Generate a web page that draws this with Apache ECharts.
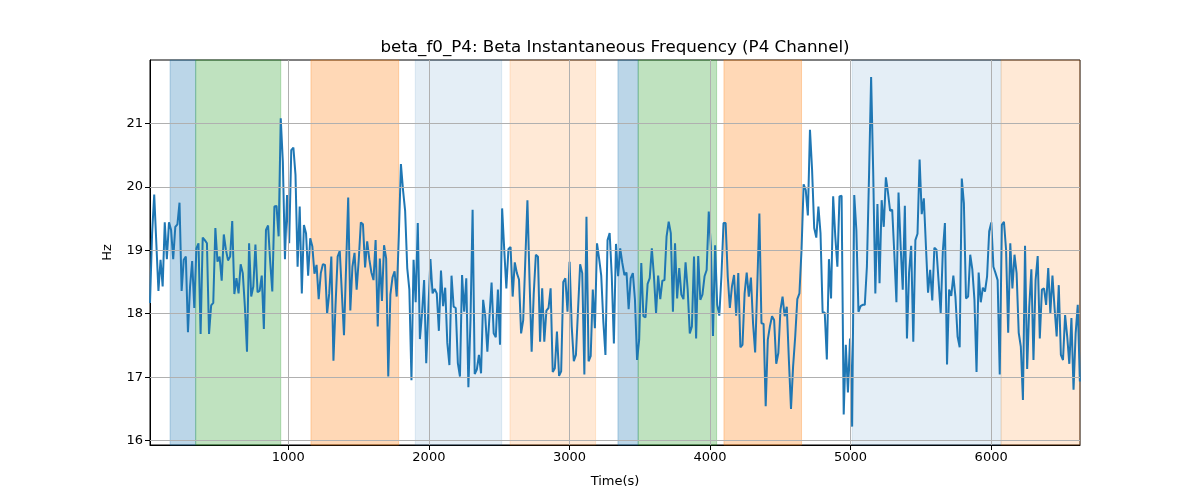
<!DOCTYPE html>
<html>
<head>
<meta charset="utf-8">
<script src="https://cdn.jsdelivr.net/npm/echarts@6/dist/echarts.min.js"></script>
<style>html,body{margin:0;padding:0;background:#fff;}#c{width:1200px;height:500px;}</style>
</head>
<body>
<div id="c"></div>
<script>
// Sampling grid of the signal (seconds)
const sampleStart = 16;
const samplePeriod = 15;

// Beta instantaneous frequency values (Hz)
const freqValues = [
18.17,19.27,19.88,19.11,18.36,18.85,18.43,19.44,18.86,19.44,
19.32,18.86,19.37,19.41,19.75,18.36,18.85,18.90,17.71,18.43,
18.83,18.09,19.03,19.11,17.68,19.20,19.16,19.11,17.68,18.13,
18.17,19.35,18.82,18.90,18.52,19.25,19.01,18.84,18.90,19.46,
18.31,18.56,18.32,18.78,18.64,18.11,17.40,19.11,18.27,18.43,
19.09,18.34,18.36,18.60,17.76,19.32,19.39,18.82,18.35,19.69,
19.70,19.22,21.08,20.40,18.86,19.87,19.11,20.58,20.62,20.19,
18.74,19.69,18.32,19.40,
19.27,18.60,19.19,19.06,18.63,18.77,18.23,18.64,18.78,18.77,
18.00,18.32,18.90,17.26,18.14,18.90,18.99,18.32,17.66,18.74,
19.83,18.05,18.74,18.96,18.38,18.85,19.44,19.41,18.73,19.14,
18.86,18.65,18.53,19.16,17.80,18.87,18.20,19.08,18.87,17.01,
18.30,18.57,18.67,18.27,19.22,20.36,19.95,19.62,18.72,18.38,
16.95,18.85,18.18,19.43,17.60,18.00,18.53,17.22,18.06,18.86,
18.32,18.39,18.32,17.73,18.68,18.12,18.41,17.54,17.19,18.60,
18.11,18.09,17.22,17.01,
18.61,18.03,18.56,16.84,17.90,19.64,17.05,17.12,17.35,17.06,
18.22,17.96,17.40,17.96,18.49,17.69,17.63,18.38,17.51,19.66,
19.01,18.40,19.02,19.05,18.27,18.81,18.64,18.54,17.69,17.90,
18.85,19.79,18.53,17.40,18.32,18.93,18.90,17.56,18.40,17.56,
18.05,18.09,18.40,17.08,17.14,17.72,17.02,17.09,18.50,18.56,
18.03,18.82,17.80,17.25,17.35,18.06,18.78,18.64,17.04,19.53,
17.25,17.33,18.38,17.77,19.11,18.87,18.60,17.88,17.35,19.16,
19.27,18.59,17.53,
19.10,18.59,19.03,18.80,18.61,18.65,18.07,18.56,18.64,18.22,
17.27,17.59,18.80,17.96,17.94,18.47,18.56,19.03,18.59,18.01,
18.60,18.23,18.52,18.53,19.22,19.45,19.27,18.03,19.11,18.24,
18.72,18.30,18.23,18.81,18.38,17.69,17.80,18.90,17.61,18.91,
18.22,18.30,18.59,18.69,19.61,19.06,17.65,19.08,18.14,17.97,
18.59,19.43,19.43,18.59,18.09,18.43,18.61,17.97,18.64,17.47,
17.51,18.32,18.65,18.27,18.57,17.85,17.39,18.43,19.58,17.85,
17.84,16.54,17.59,17.80,
17.96,17.90,17.21,17.38,18.06,18.27,17.96,18.11,17.27,16.50,
17.17,17.64,18.23,18.32,19.01,20.04,19.95,19.55,20.90,20.27,
19.35,19.20,19.69,19.27,18.02,18.02,17.28,18.86,18.24,19.85,
19.22,18.74,19.85,19.86,16.41,17.51,16.76,17.61,16.22,19.87,
19.32,18.03,18.12,18.14,18.14,18.74,20.16,21.73,20.21,18.32,
19.73,18.48,19.79,19.37,20.15,19.91,19.62,19.64,18.95,18.18,
19.91,19.06,18.38,19.70,17.61,18.65,19.07,17.56,19.16,19.26,
20.43,19.57,19.82,
19.06,18.33,18.69,18.21,19.04,19.01,18.51,18.01,18.98,19.43,
17.20,18.38,18.28,18.60,18.26,17.64,17.47,20.13,19.74,18.24,
18.27,18.93,18.70,18.22,17.08,18.65,18.18,18.41,18.35,18.59,
19.30,19.44,18.74,18.64,18.53,17.04,19.40,19.45,19.01,17.70,
19.11,18.40,18.93,18.64,17.70,17.48,16.64,19.07,17.13,18.11,
18.70,17.27,18.53,18.91,17.61,18.38,18.40,18.14,18.72,18.01,
18.60,18.09,17.64,18.45,17.35,17.27,17.98,17.64,17.21,17.93,
16.80,17.69,18.14,16.93
];

// Shaded periods: [start, end, kind]
const spanStarts = [159, 341, 1161, 1903, 2577, 3345, 3489, 4099, 5011, 6071];
const spanEnds   = [341, 946, 1785, 2518, 3186, 3489, 4047, 4651, 6071, 6632];
const spanKinds  = ['blue','green','orange','lightblue','lightorange','blue','green','orange','lightblue','lightorange'];

// Tick labels
const xTicks = [1000, 2000, 3000, 4000, 5000, 6000];
const yTicks = [16, 17, 18, 19, 20, 21];

const xMin = 16, xMax = 6632, yMin = 15.93, yMax = 22.0;

const kindColor = {
  blue: 'rgba(31,119,180,0.30)',
  green: 'rgba(44,160,44,0.30)',
  orange: 'rgba(255,127,14,0.30)',
  lightblue: 'rgba(31,119,180,0.12)',
  lightorange: 'rgba(255,127,14,0.17)'
};

const lineData = freqValues.map((v, i) => [sampleStart + samplePeriod * i, v]);

const areas = spanStarts.map((s, i) => [
  { xAxis: s, itemStyle: { color: kindColor[spanKinds[i]], borderColor: kindColor[spanKinds[i]], borderWidth: 1 } },
  { xAxis: spanEnds[i] }
]);

const gridLines = xTicks.map(v => ({ xAxis: v })).concat(yTicks.map(v => ({ yAxis: v })));

const font = 'DejaVu Sans';
const chart = echarts.init(document.getElementById('c'), null, { renderer: 'canvas' });
chart.setOption({
  animation: false,
  backgroundColor: '#ffffff',
  graphic: [{
    type: 'text', x: 615, y: 39, z: 10,
    style: {
      text: 'beta_f0_P4: Beta Instantaneous Frequency (P4 Channel)',
      fontFamily: font, fontSize: 16.7, fill: '#000', align: 'center', verticalAlign: 'top'
    }
  }],
  grid: { left: 150, right: 120, top: 60, bottom: 55, show: true, borderColor: '#000', borderWidth: 1, backgroundColor: 'transparent' },
  xAxis: {
    type: 'value', min: xMin, max: xMax,
    name: 'Time(s)', nameLocation: 'middle', nameGap: 30,
    nameTextStyle: { fontFamily: font, fontSize: 13, color: '#000' },
    axisLine: { show: true, lineStyle: { color: '#000', width: 1 } },
    axisTick: { show: true, customValues: xTicks, length: 5, lineStyle: { color: '#000' } },
    axisLabel: { customValues: xTicks, formatter: v => String(v), fontFamily: font, fontSize: 13, color: '#000', margin: 6 },
    splitLine: { show: false }
  },
  yAxis: {
    type: 'value', min: yMin, max: yMax,
    name: 'Hz', nameLocation: 'middle', nameGap: 36,
    nameTextStyle: { fontFamily: font, fontSize: 13, color: '#000' },
    axisLine: { show: true, lineStyle: { color: '#000', width: 1 } },
    axisTick: { show: true, customValues: yTicks, length: 5, lineStyle: { color: '#000' } },
    axisLabel: { customValues: yTicks, formatter: v => String(v), fontFamily: font, fontSize: 13, color: '#000', margin: 7 },
    splitLine: { show: false }
  },
  series: [
    { type: 'line', data: [], z: 1, silent: true,
      markArea: { silent: true, data: areas } },
    { type: 'line', data: [], z: 2, silent: true,
      markLine: { silent: true, symbol: ['none', 'none'], label: { show: false },
        lineStyle: { color: '#b0b0b0', width: 1, type: 'solid' }, data: gridLines } },
    { type: 'line', data: lineData, z: 3, showSymbol: false, symbol: 'none',
      lineStyle: { color: '#1f77b4', width: 2 }, itemStyle: { color: '#1f77b4' } }
  ]
});
</script>
</body>
</html>
